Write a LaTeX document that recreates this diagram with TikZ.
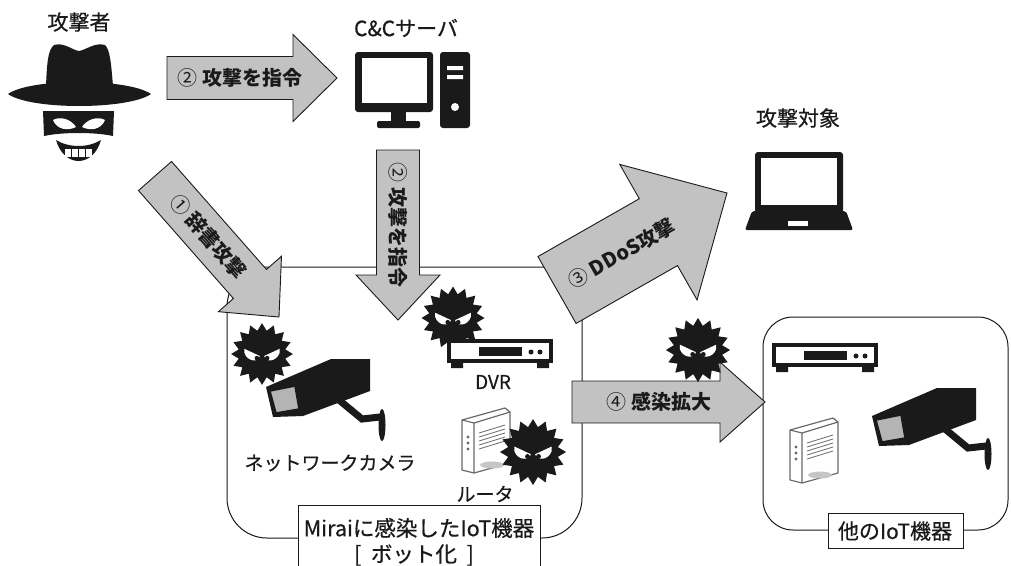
\documentclass[tikz,border=0pt]{standalone}
\usepackage{fontspec}
\setmainfont{Noto Sans CJK JP}
\newfontfamily\labelfont{Noto Sans CJK JP}[FakeBold=0.6]
\usetikzlibrary{calc}

\definecolor{ink}{HTML}{1A1A1A}
\definecolor{arrowgray}{HTML}{C2C2C2}
\definecolor{lensgray}{HTML}{B4B4B4}
\definecolor{routerline}{HTML}{6A6A6A}

% block arrow: tail, tip, half shaft, half head, head length
\newcommand{\blockarrow}[5]{%
  \coordinate (ahb) at ($(#2)!#5!(#1)$);
  \filldraw[barrow] ($(#1)!#3!90:(#2)$) -- ($(ahb)!#3!90:(#2)$)
    -- ($(ahb)!#4!90:(#2)$) -- (#2) -- ($(ahb)!#4!-90:(#2)$)
    -- ($(ahb)!#3!-90:(#2)$) -- ($(#1)!#3!-90:(#2)$) -- cycle;}

\tikzset{
  pics/virus/.style={code={
    \fill[ink] (0:30) \foreach \a in {0,22.5,...,337.5}{ -- (\a:30) -- ({\a+11.25}:23)} -- cycle;
    \fill[white] (-17,-5) -- (-2,2) .. controls (-3,8) and (-14,8) .. (-17,-1) -- cycle;
    \fill[white] (17,-5) -- (2,2) .. controls (3,8) and (14,8) .. (17,-1) -- cycle;
    \fill[ink] (-5,4) circle (2.2) (5,4) circle (2.2);
  }},
  pics/dvr/.style={code={
    \filldraw[fill=white, draw=ink, line width=3.5pt] (-51,-10) rectangle (51,10);
    \fill[ink] (-49,11) rectangle (-37,17) (37,11) rectangle (49,17);
    \fill[ink] (-21,-4) rectangle (22,5);
    \fill[ink] (31,1) circle (2.5) (40,1) circle (2.5);
  }},
  pics/router/.style={code={
    \filldraw[fill=white, draw=routerline, line width=1.2pt, line join=round]
      (0,12) -- (43,0) -- (48,4) -- (48,55) -- (12,65) -- (0,62) -- cycle;
    \fill[gray!45] (30,57) ellipse (12 and 3.5);
    \draw[routerline, line width=1.2pt] (0,12) -- (12,15) -- (48,4) (12,15) -- (12,65);
    \fill[routerline] (6,29) circle (1.7) (6,35) circle (1.7) (6,41) circle (1.7);
    \foreach \i in {0,...,4}
      \draw[routerline, line width=0.8pt] (17,{25+4*\i}) -- (43,{17+4*\i});
  }},
  pics/camera/.style={code={
    \draw[ink, line width=7pt] (72,12) -- (95,31) -- (113,29);
    \fill[ink] (115,37) ellipse (3.5 and 16);
    \fill[ink] (-1,-1) -- (64,-29) -- (103,-29) -- (103,3) -- (36,28) -- (6,29) -- cycle;
    \filldraw[fill=lensgray, draw=ink, line width=1.5pt] (3,3) -- (28,-2) -- (32,21) -- (9,25) -- cycle;
  }},
}

\begin{document}
\begin{tikzpicture}[
  x=1pt, y=-1pt,
  lbl/.style={font=\labelfont\fontsize{21}{24}\selectfont, text=ink, inner sep=0pt},
  small/.style={font=\labelfont\fontsize{19}{22}\selectfont, text=ink, inner sep=0pt},
  arrtxt/.style={font=\fontsize{20}{22}\selectfont\bfseries, text=ink, inner sep=0pt, sloped, allow upside down},
  barrow/.style={fill=arrowgray, draw=ink, line width=0.9pt},
  group/.style={draw=ink, line width=1pt},
  tag/.style={draw=ink, fill=white, line width=1pt},
]
\fill[white] (0,0) rectangle (1011,565);
\useasboundingbox (0,0) rectangle (1011,565);

% device groups
\draw[group, rounded corners=40pt] (227,267) rectangle (582,538);
\draw[group, rounded corners=30pt] (763,317) rectangle (1008,530);

% attacker
\node[lbl] (attacker) at (79,22) {攻撃者};
\fill[ink] (46,86) .. controls (47,62) and (48,50) .. (54,45) .. controls (64,42) and (72,50) .. (79,51)
  .. controls (86,50) and (95,42) .. (105,45) .. controls (110,50) and (111,62) .. (113,86) -- cycle;
\fill[ink] (8,94) .. controls (30,78) and (128,78) .. (151,94) .. controls (128,110) and (30,110) .. (8,94) -- cycle;
\fill[ink] (43,111) -- (114,111) -- (113,136) .. controls (95,132) and (62,132) .. (44,136) -- cycle;
\fill[white] (53,120) .. controls (60,116) and (71,119) .. (76,127) .. controls (68,131) and (57,130) .. (53,120) -- cycle;
\fill[white] (105,120) .. controls (98,116) and (87,119) .. (82,127) .. controls (90,131) and (101,130) .. (105,120) -- cycle;
\fill[ink] (56,140) .. controls (64,168) and (93,168) .. (101,140) .. controls (88,148) and (69,148) .. (56,140) -- cycle;
\foreach \t in {0,...,3}
  \fill[white] ({65+7*\t},149) rectangle ({70.5+7*\t},157);

% C&C server
\node[lbl] (cnc) at (406,28) {C\&Cサーバ};
\fill[ink, rounded corners=3pt] (355,52) rectangle (433,112);
\fill[white] (362,58) rectangle (427,103);
\fill[ink] (391,111) rectangle (406,122);
\fill[ink, rounded corners=2pt] (377,121) rectangle (420,128);
\fill[ink, rounded corners=3pt] (440,52) rectangle (470,128);
\fill[white] (447,66) rectangle (463,70) (447,75) rectangle (463,79);
\fill[white] (455,107) circle (4);

% target
\node[lbl] (target) at (798,118) {攻撃対象};
\fill[ink, rounded corners=3pt] (755,152) rectangle (843,213);
\fill[white] (761,158) rectangle (837,205);
\fill[ink, rounded corners=2pt] (752,211) -- (846,211) -- (853,230) -- (745,230) -- cycle;
\fill[white] (788,221) rectangle (808,226);

% infected devices
\pic[scale=1.03] (v1) at (262,354) {virus};
\pic (cam1) at (267,388) {camera};
\node[small] (camlbl) at (330,463) {ネットワークカメラ};
\pic[scale=1.05] (v2) at (453,318) {virus};
\pic (dvr1) at (500,351) {dvr};
\node[small] (dvrlbl) at (493,382) {DVR};
\pic (rt1) at (462,408) {router};
\pic[scale=1.1] (v3) at (533,452) {virus};
\node[small] (rtlbl) at (485,494) {ルータ};

% other devices
\pic (dvr2) at (825,355) {dvr};
\pic (rt2) at (790,418) {router};
\pic (cam2) at (873,417) {camera};

% arrows
\coordinate (dictA) at (155,176);  \coordinate (dictB) at (279,317);
\coordinate (cmdA) at (167,78);    \coordinate (cmdB) at (337,78);
\coordinate (cmd2A) at (398,150);  \coordinate (cmd2B) at (398,320);
\coordinate (ddosA) at (557,290);  \coordinate (ddosB) at (727,193);
\coordinate (spreadA) at (572,402); \coordinate (spreadB) at (765,402);

\blockarrow{dictA}{dictB}{22pt}{42pt}{44pt}
\blockarrow{cmdA}{cmdB}{21.5pt}{43.5pt}{44pt}
\blockarrow{cmd2A}{cmd2B}{21.5pt}{42pt}{45pt}
\blockarrow{ddosA}{ddosB}{38.5pt}{78pt}{79pt}
\blockarrow{spreadA}{spreadB}{21pt}{40pt}{45pt}

\path (dictA) -- node[arrtxt, pos=.43] (dictlbl) {{\mdseries ①} 辞書攻撃} (dictB);
\path (cmdA) -- node[arrtxt, pos=.43] (cmdlbl) {{\mdseries ②} 攻撃を指令} (cmdB);
\path (cmd2A) -- node[arrtxt, pos=.44] (cmd2lbl) {{\mdseries ②} 攻撃を指令} (cmd2B);
\path (ddosA) -- node[arrtxt, pos=.38] (ddoslbl) {{\mdseries ③} DDoS攻撃} (ddosB);
\path (spreadA) -- node[arrtxt, pos=.45] (spreadlbl) {{\mdseries ④} 感染拡大} (spreadB);

\pic[scale=1.07] (v4) at (698,350) {virus};

% group tags
\draw[tag] (298,505) rectangle (540,580);
\node[lbl, font=\labelfont\fontsize{21.5}{24}\selectfont] (botlbl) at (419,528) {Miraiに感染したIoT機器};
\node[lbl, font=\labelfont\fontsize{21.5}{24}\selectfont] (botsub) at (414,555) {[\hspace{.45em}ボット化\hspace{.45em}]};
\draw[tag] (828,513) rectangle (963,548);
\node[lbl] (otherlbl) at (895,531) {他のIoT機器};
\end{tikzpicture}
\end{document}
